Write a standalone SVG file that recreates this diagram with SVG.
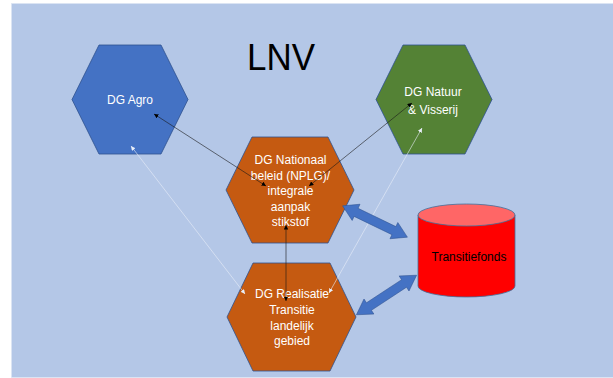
<svg xmlns="http://www.w3.org/2000/svg" width="613" height="378" viewBox="0 0 613 378">
<defs>
<style>
.hex{stroke:#2F528F;stroke-width:0.8}
.lbl{font-family:"Liberation Sans",Arial,sans-serif;font-size:12px;fill:#FFFFFF;text-anchor:middle}
.dark{stroke:#1A1A1A;stroke-width:0.6;fill:none;marker-start:url(#ad);marker-end:url(#ad)}
.light{stroke:#E9EFF9;stroke-width:0.6;fill:none;marker-start:url(#al);marker-end:url(#al)}
.blue{fill:#4472C4;stroke:#2F528F;stroke-width:0.5}
</style>
<marker id="ad" viewBox="0 0 10 10" markerWidth="4.5" markerHeight="4.5" refX="10" refY="5" orient="auto-start-reverse" markerUnits="userSpaceOnUse">
<path d="M0,0 L10,5 L0,10 Z" fill="#000000"/>
</marker>
<marker id="al" viewBox="0 0 10 10" markerWidth="4.5" markerHeight="4.5" refX="10" refY="5" orient="auto-start-reverse" markerUnits="userSpaceOnUse">
<path d="M0,0 L10,5 L0,10 Z" fill="#E9EFF9"/>
</marker>
<path id="dbl" d="M-36,0 L-21,-9 L-21,-4.5 L21,-4.5 L21,-9 L36,0 L21,9 L21,4.5 L-21,4.5 L-21,9 Z"/>
</defs>
<rect x="0" y="0" width="613" height="378" fill="#FFFFFF"/>
<rect x="11.5" y="3.5" width="602" height="374" fill="#B4C7E7" stroke="#DCE5F3" stroke-width="0.6"/>
<text x="281" y="70" font-family="'Liberation Sans',Arial,sans-serif" font-size="37" fill="#000000" text-anchor="middle" textLength="68" lengthAdjust="spacingAndGlyphs">LNV</text>

<g id="dg-agro">
<polygon class="hex" fill="#4472C4" points="99,45 161,45 188,99.5 161,154 99,154 72,99.5"/>
<text class="lbl" x="130" y="104">DG Agro</text>
</g>
<g id="dg-natuur">
<polygon class="hex" fill="#548235" points="403,45 465,45 492,99.5 465,154 403,154 376,99.5"/>
<text class="lbl" x="433" y="96">DG Natuur</text>
<text class="lbl" x="433" y="113.5">&amp; Visserij</text>
</g>
<g id="dg-nationaal">
<polygon class="hex" fill="#C55A11" points="252,137 328,137 354,190 328,243 252,243 226,190"/>
<text class="lbl" x="290.5" y="164">DG Nationaal</text>
<text class="lbl" x="290.5" y="179.5">beleid (NPLG)/</text>
<text class="lbl" x="290.5" y="195">integrale</text>
<text class="lbl" x="290.5" y="210.5">aanpak</text>
<text class="lbl" x="290.5" y="226">stikstof</text>
</g>
<g id="dg-realisatie">
<polygon class="hex" fill="#C55A11" points="253,263 330,263 356,317 330,371 253,371 227,317"/>
<text class="lbl" x="292" y="297.5">DG Realisatie</text>
<text class="lbl" x="292" y="313.5">Transitie</text>
<text class="lbl" x="292" y="329.5">landelijk</text>
<text class="lbl" x="292" y="345">gebied</text>
</g>
<g id="transitiefonds">
<path d="M418,215 L418,286 A48.5,11 0 0 0 515,286 L515,215 Z" fill="#FF0000" stroke="#41719C" stroke-width="0.8"/>
<ellipse cx="466.5" cy="215" rx="48.5" ry="11" fill="#FF6666" stroke="#41719C" stroke-width="0.8"/>
<text x="469" y="261" font-family="'Liberation Sans',Arial,sans-serif" font-size="12" fill="#000000" text-anchor="middle">Transitiefonds</text>
</g>

<g id="connectors">
<line class="dark" x1="266" y1="186" x2="154" y2="114"/>
<line class="dark" x1="309" y1="186" x2="412" y2="103"/>
<line class="dark" x1="286" y1="225" x2="286" y2="301"/>
<line class="light" x1="245" y1="294" x2="131" y2="146"/>
<line class="light" x1="329" y1="293" x2="422" y2="128"/>
<use href="#dbl" class="blue" transform="translate(375,221.5) rotate(25.8)"/>
<use href="#dbl" class="blue" transform="translate(386.5,295) rotate(-33.3)"/>
</g>
</svg>
